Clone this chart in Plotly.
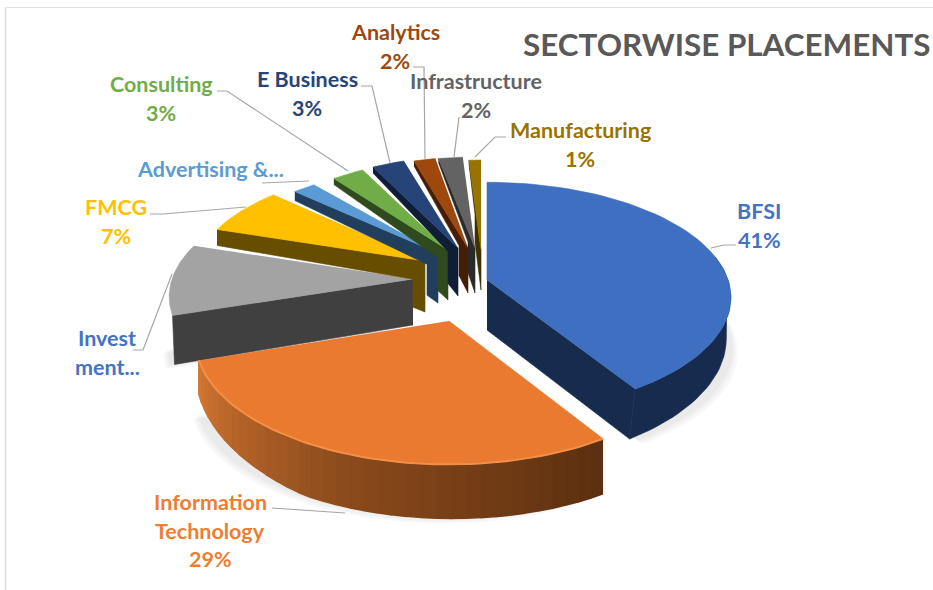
import numpy as np
import plotly.graph_objects as go

# ---- data ----
categories = ["BFSI", "Information Technology", "Investment", "FMCG", "Advertising",
              "Consulting", "E Business", "Analytics", "Infrastructure", "Manufacturing"]
values = [41, 29, 10, 7, 2, 3, 3, 2, 2, 1]
title_text = "SECTORWISE PLACEMENTS"
label_lines = [
    ["BFSI", "41%"],
    ["Information", "Technology", "29%"],
    ["Invest", "ment..."],
    ["FMCG", "7%"],
    ["Advertising &..."],
    ["Consulting", "3%"],
    ["E Business", "3%"],
    ["Analytics", "2%"],
    ["Infrastructure", "2%"],
    ["Manufacturing", "1%"],
]

# ---- styles and layout constants ----
W, H = 933, 590
A, B, P = 241.0, 112.6, 0.152  # projected disc radii and perspective strength
top_colors = ["#3f6fc0", "#e97a2f", "#a3a3a3", "#ffc000", "#5b9bd5",
              "#70ad47", "#264478", "#9e480e", "#636363", "#997300"]
wall_colors = ["#172b4f", "#7a4016", "#404040", "#664d00", "#213f5c",
               "#2f4a1e", "#0f1d36", "#441f06", "#2a2a2a", "#413100"]
text_colors = ["#4472c4", "#ed7d31", "#4472c4", "#ffc000", "#5b9bd5",
               "#70ad47", "#264478", "#9e480e", "#636363", "#997300"]
# per-slice explosion: apex x, apex y, x scale, y scale, wall depth at apex, wall depth at rim
placement = [
    (487, 280, 1.00, 1.00, 50, 50),
    (449, 321, 1.04, 1.08, 53, 53),
    (413, 279, 1.00, 1.00, 46, 49),
    (425, 261, 0.95, 0.95, 51, 16),
    (438, 253, 0.90, 0.88, 50, 9),
    (448, 250, 0.83, 0.92, 50, 6),
    (458, 248, 0.83, 0.93, 48, 6),
    (468, 248, 0.83, 0.93, 45, 5),
    (475, 248, 0.93, 0.93, 45, 4),
    (481, 250, 0.92, 0.92, 40, 3),
]
# end-cap width and wall thickness just before the cap, for the slivers
caps = {3: (12, 20), 4: (11, 16), 5: (10, 14), 6: (10, 13), 7: (9, 12), 8: (7, 11), 9: (6, 9)}
label_pos = [(759, 211), (210, 502), (107, 338), (116, 207), (210, 169),
             (161, 84), (307, 79), (395, 32), (476, 81), (580, 130)]
LINE_GAP = 28.5
leaders = [
    [(736, 245), (724, 245), (711, 248)],
    [(272, 508), (345, 513)],
    [(133, 350), (143, 350), (172, 274)],
    [(150, 214), (163, 214), (246, 207)],
    [(262, 183), (309, 181)],
    [(217, 91), (227, 91), (348, 171)],
    [(361, 86), (372, 86), (390, 163)],
    [(413, 67), (424, 67), (425, 159)],
    [(459, 117), (454, 157)],
    [(506, 137), (495, 137), (475, 157)],
]

# ---- geometry derived from the values ----
total = sum(values)
edges = np.cumsum([0] + values) / total * 360.0


def rim(i, deg):
    ax, ay, sx, sy, _, _ = placement[i]
    t = np.radians(deg)
    u, v = np.sin(t), -np.cos(t)
    s = 1 / (1 - P * v)
    return ax + A * sx * u * s, ay + B * sy * v * s


def mix(c1, c2, f):
    a = [int(c1[k:k + 2], 16) for k in (1, 3, 5)]
    b = [int(c2[k:k + 2], 16) for k in (1, 3, 5)]
    return "#" + "".join(f"{round(x + (y - x) * f):02x}" for x, y in zip(a, b))


fig = go.Figure()


def poly(xs, ys, color, name, width=0.6):
    fig.add_trace(go.Scatter(
        x=list(xs), y=list(ys), mode="lines", fill="toself", fillcolor=color, name=name,
        line=dict(color=color, width=width), hoverinfo="skip", showlegend=False))


# soft shadows under the big slices
for i, a_from, a_to, dx, dy in [(1, edges[1], edges[2], -6, 6),
                                (0, 85, edges[1], 7, 5),
                                (2, edges[2], edges[2] + 8, -6, 5)]:
    pts = [rim(i, t) for t in np.linspace(a_from, a_to, 40)]
    depth = placement[i][5]
    ax, ay = placement[i][:2]
    for k in (1.0, 0.65, 0.3):
        xs = [ax] + [p[0] + dx * k for p in pts]
        ys = [ay + depth] + [p[1] + depth + dy * k for p in pts]
        poly(xs, ys, "rgba(70,70,70,0.035)", categories[i] + " shadow", width=0)

# back slices are painted first, the two front slices come last
order = [2, 3, 4, 5, 6, 7, 8, 9, 0, 1]
for i in order:
    a0, a1 = edges[i], edges[i + 1]
    ax, ay, sx, sy, d0, d1 = placement[i]
    pts = np.array([rim(i, t) for t in np.linspace(a0, a1, 60)])
    name = categories[i]
    if i == 0:
        # outer rim and end wall
        arc = np.linspace(78, a1, 40)
        rp = np.array([rim(0, t) for t in arc])
        dp = np.interp(arc, [78, 100, a1], [0, d1 * 0.85, d1])
        poly(np.r_[rp[:, 0], (rp[:, 0] - 0.11 * dp)[::-1]], np.r_[rp[:, 1], (rp[:, 1] + dp)[::-1]],
             wall_colors[0], name + " rim")
        ex, ey = rim(0, a1)
        poly([ax, ex, ex - 0.11 * d1, ax], [ay, ey, ey + d1, ay + d0], wall_colors[0], name + " wall")
    elif i == 1:
        # shaded front rim
        n = 36
        arc = np.linspace(a0, a1, n + 1)
        dp = np.interp(arc, [a0, 210, a1], [d1 + 2, d1, 34])
        for k in range(n):
            f = k / (n - 1)
            c = mix("#5c3010", "#8a4a1b", f / 0.5) if f < 0.5 else mix("#8a4a1b", "#d37632", (f - 0.5) / 0.5)
            x0, y0 = rim(1, arc[k])
            x1, y1 = rim(1, arc[k + 1])
            poly([x0, x1, x1, x0], [y0, y1, y1 + dp[k + 1], y0 + dp[k]], c, name + " rim", width=1.6)
    elif i == 2:
        ex, ey = rim(i, a0)
        poly([ax, ex, ex + 2, ax], [ay, ey, ey + d1, ay + d0], wall_colors[i], name + " wall")
    else:
        # thin radial wall ending in a full-height cap near the apex
        ex, ey = rim(i, a0)
        cap, dk = caps[i]
        tk = 1 - cap / (ax - ex)
        kx, ky = ex + (ax - ex) * tk, ey + (ay - ey) * tk
        poly([ex, kx, ax, ax, kx, kx, ex],
             [ey, ky, ay, ay + d0, ky + d0 - 3, ky + dk, ey + d1],
             wall_colors[i], name + " wall")
    poly(np.r_[ax, pts[:, 0]], np.r_[ay, pts[:, 1]], top_colors[i], name)
    if i == 1:
        fig.add_trace(go.Scatter(x=pts[:, 0], y=pts[:, 1], mode="lines", hoverinfo="skip", showlegend=False,
                                 line=dict(color="#f48f48", width=2)))

# leader lines
for i, path in enumerate(leaders):
    fig.add_trace(go.Scatter(x=[p[0] for p in path], y=[p[1] for p in path], mode="lines",
                             hoverinfo="skip", showlegend=False, line=dict(color="#a6a6a6", width=1.2)))

# data labels
ann = []
for i, lines in enumerate(label_lines):
    x, y = label_pos[i]
    for k, line in enumerate(lines):
        ann.append(dict(x=x, y=y + k * LINE_GAP, xref="x", yref="y", text=f"<b>{line}</b>", showarrow=False,
                        font=dict(family="Lato", size=21.5, color=text_colors[i]),
                        xanchor="center", yanchor="middle"))
ann.append(dict(x=726, y=44, xref="x", yref="y", text=f"<b>{title_text}</b>", showarrow=False,
                font=dict(family="Lato", size=31.4, color="#595959"), xanchor="center", yanchor="middle"))

fig.update_layout(
    width=W, height=H, autosize=False,
    margin=dict(l=0, r=0, t=0, b=0),
    paper_bgcolor="white", plot_bgcolor="white",
    xaxis=dict(range=[0, W], visible=False, fixedrange=True),
    yaxis=dict(range=[H, 0], visible=False, fixedrange=True),
    annotations=ann,
    shapes=[
        dict(type="line", xref="x", yref="y", x0=5.5, x1=5.5, y0=8, y1=H, line=dict(color="#dedede", width=1.5)),
        dict(type="line", xref="x", yref="y", x0=5, x1=W, y0=7.5, y1=7.5, line=dict(color="#e4e4e4", width=1)),
    ],
)
fig.write_html("out.html", config={"displayModeBar": False},
               post_script="document.body.style.margin='0';document.body.style.overflow='hidden';")
